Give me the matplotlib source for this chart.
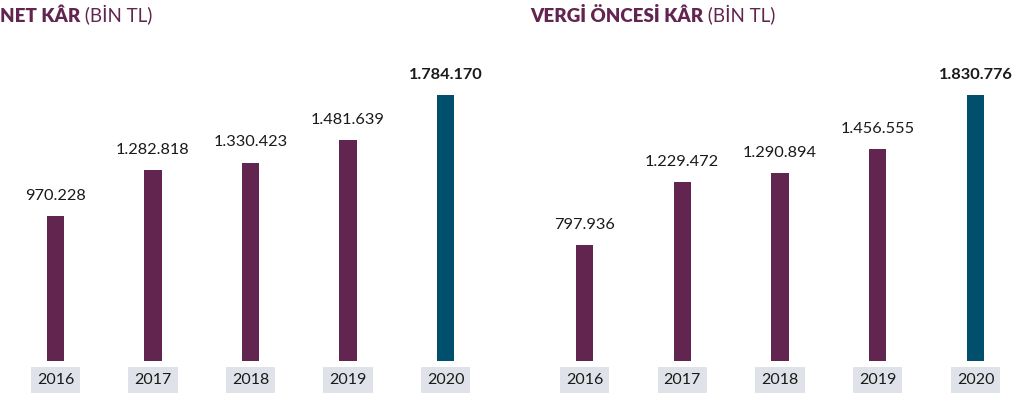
import matplotlib
matplotlib.use("Agg")
import matplotlib.pyplot as plt

plt.rcParams['font.family'] = ['Lato', 'DejaVu Sans']

years = ["2016", "2017", "2018", "2019", "2020"]
net_kar = [970228, 1282818, 1330423, 1481639, 1784170]
vergi_oncesi_kar = [797936, 1229472, 1290894, 1456555, 1830776]
title_bold = ["NET KÂR", "VERGİ ÖNCESİ KÂR"]
title_rest = " (BİN TL)"

purple = "#62254f"
teal = "#00506d"
box_grey = "#dfe2e8"

W, H = 1030, 394
fig = plt.figure(figsize=(W / 100, H / 100), dpi=100)


def fmt(v):
    return f"{v:,}".replace(",", ".")


def draw_panel(left_px, step_px, values, bold_title, title_x):
    # axes in pixel terms: baseline 361px from top, tallest bar top at 95px
    bottom = 33
    top = 354
    ax = fig.add_axes([left_px / W, bottom / H, 5 * step_px / W, (top - bottom) / H])
    xs = list(range(len(values)))
    colors = [purple] * (len(values) - 1) + [teal]
    ax.bar(xs, values, width=0.175, color=colors)
    ax.set_xlim(-0.5, 4.5)
    ax.set_ylim(0, max(values) * (top - bottom) / (299 - bottom))
    ax.axis("off")
    for i, v in enumerate(values):
        last = i == len(values) - 1
        ax.annotate(fmt(v), (i, v), xytext=(0, 9.5), textcoords="offset points",
                    ha="center", va="bottom", fontsize=11.8,
                    fontweight="bold" if last else "normal", color="#1a1a1a")
        ax.text(i, -19 / (top - bottom) * ax.get_ylim()[1], years[i], ha="center", va="center",
                fontsize=11.5, color="#1a1a1a",
                bbox=dict(boxstyle="square,pad=0.38", fc=box_grey, ec="none"))
    t = fig.text(title_x / W, 1 - 22 / H, bold_title, fontsize=13.5, fontweight="heavy",
                 color=purple, ha="left", va="baseline")
    fig.canvas.draw()
    ext = t.get_window_extent()
    fig.text((ext.x1) / W, 1 - 22 / H, title_rest, fontsize=13.5, color=purple,
             ha="left", va="baseline")


draw_panel(55.5 - 48.75, 97.5, net_kar, title_bold[0], 0)
draw_panel(584.5 - 48.9, 97.75, vergi_oncesi_kar, title_bold[1], 530)

fig.savefig("out.png", dpi=100)
